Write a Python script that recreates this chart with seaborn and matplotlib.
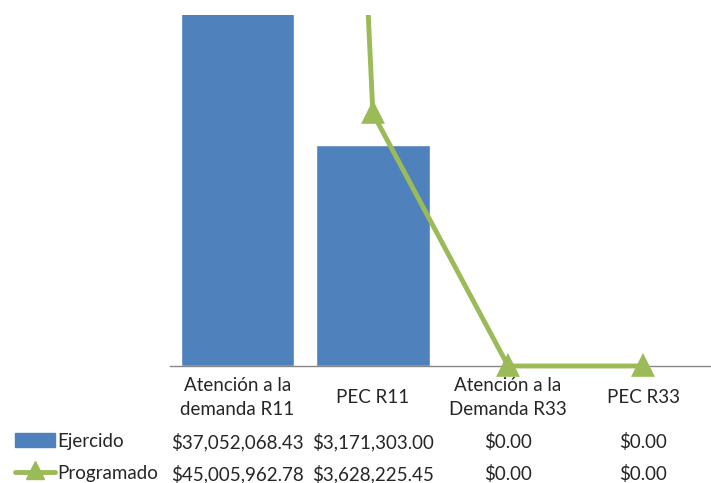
import seaborn as sns
import pandas as pd
import matplotlib
matplotlib.use('Agg')
from matplotlib import pyplot as plt
from matplotlib.transforms import blended_transform_factory, Bbox, TransformedBbox
from matplotlib.patches import Rectangle
from matplotlib.lines import Line2D

categorias = ['Atención a la\ndemanda R11', 'PEC R11', 'Atención a la\nDemanda R33', 'PEC R33']
ejercido = [37052068.43, 3171303.00, 0.00, 0.00]
programado = [45005962.78, 3628225.45, 0.00, 0.00]
etiq_ejercido = ['$37,052,068.43', '$3,171,303.00', '$0.00', '$0.00']
etiq_programado = ['$45,005,962.78', '$3,628,225.45', '$0.00', '$0.00']

azul = '#4F81BD'
verde = '#9BBB59'
fs = 13.5

sns.set_style('white')
plt.rcParams['font.family'] = ['Lato', 'DejaVu Sans']

df = pd.DataFrame({'cat': categorias, 'Ejercido': ejercido, 'Programado': programado})

fig = plt.figure(figsize=(7.11, 4.83), dpi=100)
ax = fig.add_axes([170 / 711, 117 / 483, 541 / 711, 351 / 483])

sns.barplot(data=df, x='cat', y='Ejercido', color=azul, saturation=1, width=0.84, ax=ax)
n_lineas = len(ax.lines)
sns.pointplot(data=df, x='cat', y='Programado', color=verde, marker='^', markersize=13,
              linewidth=3.5, ax=ax)

# recorte solo por arriba, para que los triangulos en cero se vean completos
caja = TransformedBbox(Bbox([[-0.05, -0.1], [1.05, 1.0]]), ax.transAxes)
for ln in ax.lines[n_lineas:]:
    ln.set_clip_box(caja)
    ln.set_zorder(5)

ax.set_ylim(0, 5.04e6)
ax.set_xlim(-0.5, 3.5)
ax.set_yticks([])
ax.set_xlabel('')
ax.set_ylabel('')
for s in ['top', 'right', 'left']:
    ax.spines[s].set_visible(False)
ax.spines['bottom'].set_color('#868686')
ax.spines['bottom'].set_linewidth(1)
ax.tick_params(axis='x', length=0, pad=23)
ax.set_xticks(range(4))
ax.set_xticklabels(categorias, fontsize=fs, linespacing=1.5, va='center')

# tabla de datos
tr = blended_transform_factory(ax.transData, fig.transFigure)
for i in range(4):
    ax.text(i, 1 - 442 / 483, etiq_ejercido[i], transform=tr, ha='center', va='center', fontsize=fs)
    ax.text(i, 1 - 474 / 483, etiq_programado[i], transform=tr, ha='center', va='center', fontsize=fs)

fig.text(57 / 711, 1 - 442 / 483, 'Ejercido', ha='left', va='center', fontsize=fs)
fig.text(57 / 711, 1 - 474 / 483, 'Programado', ha='left', va='center', fontsize=fs)
fig.patches.append(Rectangle((15 / 711, 1 - 447 / 483), 40 / 711, 14 / 483,
                             transform=fig.transFigure, color=azul))
fig.lines.append(Line2D([15 / 711, 55 / 711], [1 - 472 / 483, 1 - 472 / 483],
                        transform=fig.transFigure, color=verde, lw=3.5))
fig.lines.append(Line2D([35 / 711], [1 - 470 / 483], transform=fig.transFigure,
                        color=verde, marker='^', markersize=13))

fig.savefig('out.png', dpi=100)
